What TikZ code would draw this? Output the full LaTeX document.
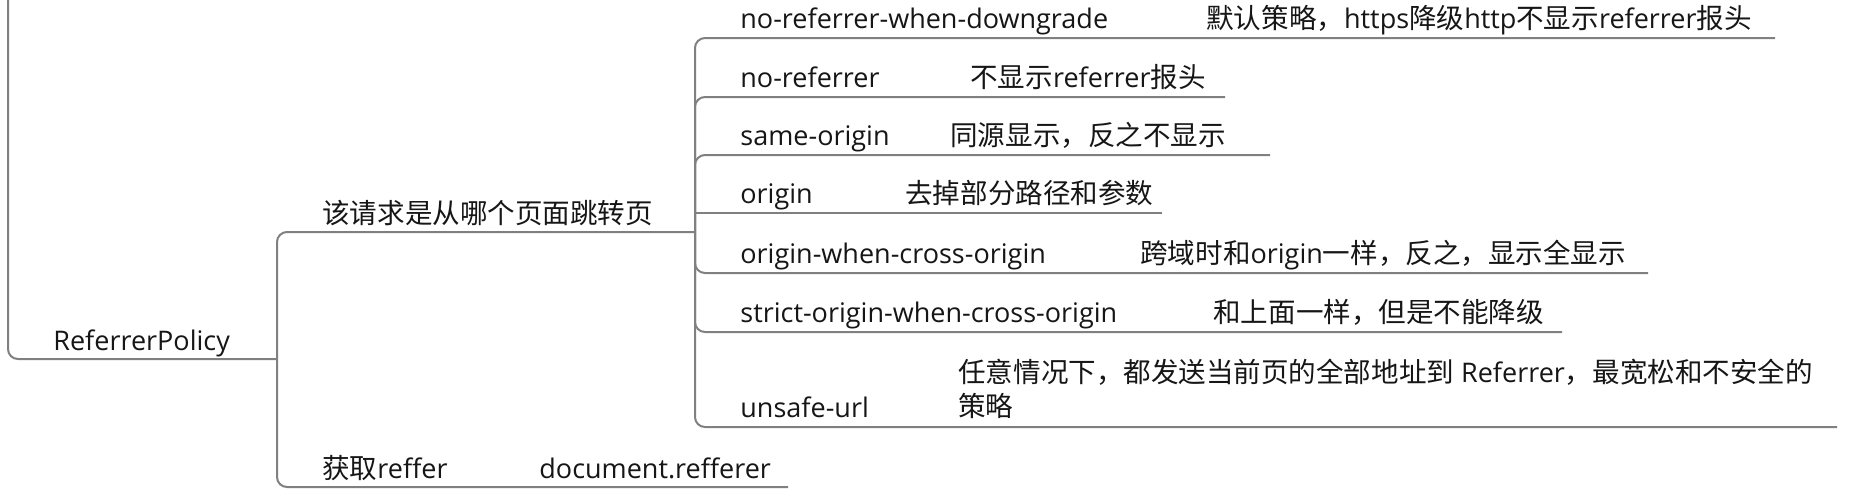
\documentclass[tikz,border=0pt]{standalone}
\usepackage{fontspec}
\setmainfont{Open Sans}
\newfontfamily\cjk[Scale=1.02]{Noto Sans CJK SC}
\definecolor{linegray}{RGB}{128,128,128}
\definecolor{txt}{RGB}{22,22,22}
\begin{document}
\begin{tikzpicture}[x=0.5pt,y=-0.5pt,
  lbl/.style={anchor=base west,inner sep=0pt,text=txt,font=\fontsize{13.5}{17}\selectfont},
  conn/.style={draw=linegray,line width=1pt,rounded corners=5pt},
]
\useasboundingbox (0,0) rectangle (1868,500);
\fill[white] (0,0) rectangle (1868,500);

% root
\node[lbl] (root) at (53,350) {ReferrerPolicy};
\coordinate (rootTop) at (8,-10);
\coordinate (j1) at (277,359);
\draw[conn] (rootTop) |- (j1);

% level 2
\node[lbl] (req) at (322,223) {{\cjk 该请求是从哪个页面跳转页}};
\coordinate (j2) at (695,232);
\draw[conn] (j1) |- (j2);
\node[lbl] (get) at (322,478) {{\cjk 获取}reffer};
\node[lbl] (getd) at (539,478) {document.refferer};
\coordinate (getEnd) at (788,487);
\draw[conn] (j1) |- (getEnd);

% level 3
\node[lbl] (p1) at (740,28) {no-referrer-when-downgrade};
\node[lbl] (d1) at (1206,28) {{\cjk 默认策略，}https{\cjk 降级}http{\cjk 不显示}referrer{\cjk 报头}};
\coordinate (e1) at (1775,38);
\draw[conn] (j2) |- (e1);

\node[lbl] (p2) at (740,87) {no-referrer};
\node[lbl] (d2) at (970,87) {{\cjk 不显示}referrer{\cjk 报头}};
\coordinate (e2) at (1225,97);
\draw[conn] (j2) |- (e2);

\node[lbl] (p3) at (740,145) {same-origin};
\node[lbl] (d3) at (950,145) {{\cjk 同源显示，反之不显示}};
\coordinate (e3) at (1270,155);
\draw[conn] (j2) |- (e3);

\node[lbl] (p4) at (740,203) {origin};
\node[lbl] (d4) at (905,203) {{\cjk 去掉部分路径和参数}};
\coordinate (e4) at (1162,213);
\draw[conn,sharp corners] (j2) |- (e4);

\node[lbl] (p5) at (740,263) {origin-when-cross-origin};
\node[lbl] (d5) at (1140,263) {{\cjk 跨域时和}origin{\cjk 一样，反之，显示全显示}};
\coordinate (e5) at (1648,273);
\draw[conn] (j2) |- (e5);

\node[lbl] (p6) at (740,322) {strict-origin-when-cross-origin};
\node[lbl] (d6) at (1213,322) {{\cjk 和上面一样，但是不能降级}};
\coordinate (e6) at (1562,332);
\draw[conn] (j2) |- (e6);

\node[lbl] (p7) at (740,417) {unsafe-url};
\node[lbl,align=left] (d7) at (958,416) {{\cjk 任意情况下，都发送当前页的全部地址到} Referrer{\cjk ，最宽松和不安全的}\\{\cjk 策略}};
\coordinate (e7) at (1837,427);
\draw[conn] (j2) |- (e7);
\end{tikzpicture}
\end{document}
